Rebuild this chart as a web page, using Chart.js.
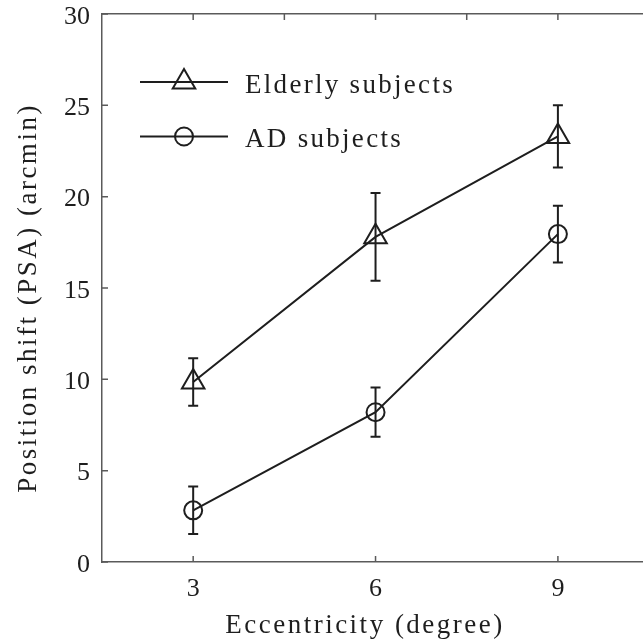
<!DOCTYPE html>
<html>
<head>
<meta charset="utf-8">
<script src="https://cdn.jsdelivr.net/npm/chart.js@4.4.1/dist/chart.umd.min.js"></script>
<style>
  html, body { margin: 0; padding: 0; background: #ffffff; overflow: hidden; }
  canvas { display: block; }
</style>
</head>
<body>
<canvas id="grafico" width="643" height="640"></canvas>
<script>
// values
var eccentricity = [3, 6, 9];
var elderlyMean = [9.85, 17.8, 23.3];
var elderlyErr = [1.3, 2.4, 1.7];
var adMean = [2.83, 8.2, 17.95];
var adErr = [1.3, 1.35, 1.55];
var yTicks = [0, 5, 10, 15, 20, 25, 30];
var topTicks = [3, 4.5, 6, 7.5, 9];
var seriesNames = ["Elderly subjects", "AD subjects"];
var xTitle = "Eccentricity (degree)";
var yTitle = "Position shift (PSA) (arcmin)";

var serif = "'Liberation Serif', 'DejaVu Serif', serif";
var ink = "#1e1e1e";
var axisGray = "#5a5a5a";

function pts(vals) {
  return eccentricity.map(function (x, i) { return { x: x, y: vals[i] }; });
}

function noPad(scale) {
  scale.paddingTop = 0;
  scale.paddingBottom = 0;
  scale.paddingLeft = 0;
  scale.paddingRight = 0;
}

// error bars, inward tick marks, legend, axis titles
var extras = {
  id: "extras",
  afterDatasetsDraw: function (chart) {
    var ctx = chart.ctx;
    var xs = chart.scales.x, ys = chart.scales.y, xt = chart.scales.x2;
    var area = chart.chartArea;
    ctx.save();

    // error bars
    ctx.strokeStyle = ink;
    ctx.lineWidth = 2;
    chart.data.datasets.forEach(function (ds) {
      ds.data.forEach(function (p, i) {
        var px = xs.getPixelForValue(p.x);
        var top = ys.getPixelForValue(p.y + ds.err[i]);
        var bot = ys.getPixelForValue(p.y - ds.err[i]);
        ctx.beginPath();
        ctx.moveTo(px, top); ctx.lineTo(px, bot);
        ctx.moveTo(px - 5, top); ctx.lineTo(px + 5, top);
        ctx.moveTo(px - 5, bot); ctx.lineTo(px + 5, bot);
        ctx.stroke();
      });
    });

    // inward ticks
    ctx.strokeStyle = axisGray;
    ctx.lineWidth = 1.5;
    ctx.beginPath();
    yTicks.forEach(function (v) {
      var py = ys.getPixelForValue(v);
      ctx.moveTo(area.left, py); ctx.lineTo(area.left + 6, py);
    });
    eccentricity.forEach(function (v) {
      var px = xs.getPixelForValue(v);
      ctx.moveTo(px, area.bottom); ctx.lineTo(px, area.bottom - 6);
    });
    topTicks.forEach(function (v) {
      var px = xt.getPixelForValue(v);
      ctx.moveTo(px, area.top); ctx.lineTo(px, area.top + 6);
    });
    ctx.stroke();

    // legend
    var rows = [82, 136.5];
    ctx.font = "27px " + serif;
    ctx.letterSpacing = "2.3px";
    chart.data.datasets.forEach(function (ds, i) {
      var y = rows[i];
      ctx.strokeStyle = ink;
      ctx.lineWidth = 2;
      ctx.beginPath();
      ctx.moveTo(140, y); ctx.lineTo(228, y);
      ctx.stroke();
      ctx.fillStyle = "rgba(0,0,0,0)";
      Chart.helpers.drawPoint(ctx, {
        pointStyle: ds.pointStyle,
        radius: ds.pointRadius,
        borderWidth: 2
      }, 184, y);
      ctx.fillStyle = ink;
      ctx.textBaseline = "alphabetic";
      ctx.textAlign = "left";
      ctx.fillText(ds.label, 245, y + 10.5);
    });

    // axis titles
    ctx.fillStyle = ink;
    ctx.letterSpacing = "2.5px";
    ctx.textAlign = "center";
    ctx.textBaseline = "alphabetic";
    ctx.fillText(xTitle, 365, 633);
    ctx.save();
    ctx.translate(36, 298);
    ctx.rotate(-Math.PI / 2);
    ctx.fillText(yTitle, 0, 0);
    ctx.restore();

    ctx.restore();
  }
};

var ctx = document.getElementById("grafico").getContext("2d");
var grafico = new Chart(ctx, {
  type: "line",
  data: {
    datasets: [
      {
        label: seriesNames[0],
        data: pts(elderlyMean),
        err: elderlyErr,
        borderColor: ink,
        borderWidth: 2,
        pointStyle: "triangle",
        pointRadius: 13,
        pointBorderWidth: 2,
        pointBorderColor: ink,
        pointBackgroundColor: "rgba(0,0,0,0)",
        fill: false,
        tension: 0
      },
      {
        label: seriesNames[1],
        data: pts(adMean),
        err: adErr,
        borderColor: ink,
        borderWidth: 2,
        pointStyle: "circle",
        pointRadius: 9,
        pointBorderWidth: 2,
        pointBorderColor: ink,
        pointBackgroundColor: "rgba(0,0,0,0)",
        fill: false,
        tension: 0
      }
    ]
  },
  options: {
    responsive: false,
    animation: false,
    layout: { padding: 0, autoPadding: false },
    plugins: {
      legend: { display: false },
      tooltip: { enabled: false }
    },
    scales: {
      x: {
        type: "linear",
        position: "bottom",
        min: 1.5,
        max: 10.4,
        afterBuildTicks: function (scale) {
          scale.ticks = eccentricity.map(function (v) { return { value: v }; });
        },
        afterFit: function (scale) { scale.height = 78; noPad(scale); },
        grid: { display: false },
        border: { display: true, color: axisGray, width: 1.5 },
        ticks: {
          color: ink,
          font: { family: serif, size: 26 },
          padding: 4,
          maxRotation: 0
        }
      },
      x2: {
        type: "linear",
        position: "top",
        min: 1.5,
        max: 10.4,
        afterBuildTicks: function (scale) {
          scale.ticks = topTicks.map(function (v) { return { value: v }; });
        },
        afterFit: function (scale) { scale.height = 14; noPad(scale); },
        grid: { display: false },
        border: { display: true, color: axisGray, width: 1.5 },
        ticks: { display: false }
      },
      y: {
        min: 0,
        max: 30,
        afterBuildTicks: function (scale) {
          scale.ticks = yTicks.map(function (v) { return { value: v }; });
        },
        afterFit: function (scale) { scale.width = 102; noPad(scale); },
        grid: { display: false },
        border: { display: true, color: axisGray, width: 1.5 },
        ticks: {
          color: ink,
          font: { family: serif, size: 26 },
          padding: 4,
          labelOffset: 3
        }
      }
    }
  },
  plugins: [extras]
});
</script>
</body>
</html>
